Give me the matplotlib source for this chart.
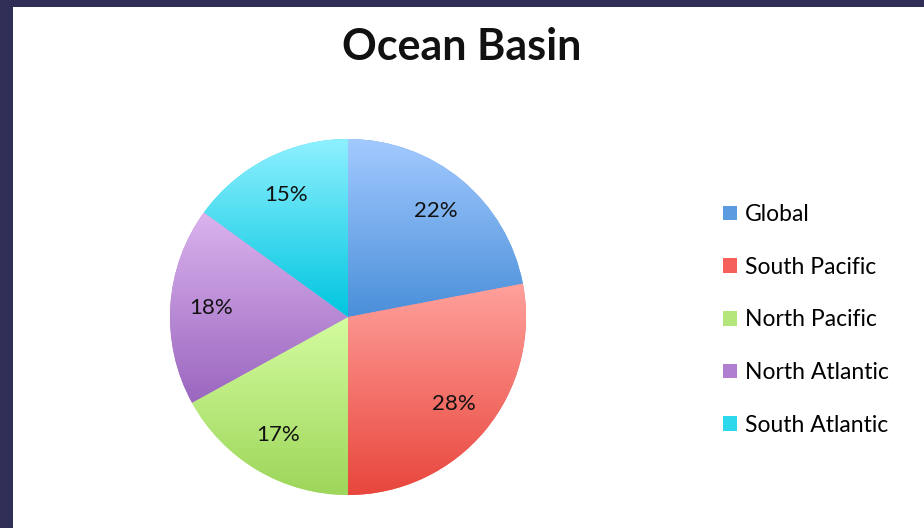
import numpy as np
import matplotlib
matplotlib.use("Agg")
import matplotlib.pyplot as plt
from matplotlib.patches import Patch, Rectangle
from matplotlib.colors import to_rgb

# Chart data
basins = ["Global", "South Pacific", "North Pacific", "North Atlantic", "South Atlantic"]
shares = [22, 28, 17, 18, 15]

# light (top) / dark (bottom) gradient ends per slice
top_colors = ["#a3caff", "#ffa19c", "#d4fc9f", "#dbb3ee", "#8ef0ff"]
bottom_colors = ["#4a8fd9", "#e8463c", "#9dd65a", "#9a66bf", "#00c6df"]
legend_colors = ["#5b9be0", "#f5605a", "#b5e67c", "#b07fd0", "#2dd8ec"]

plt.rcParams["font.family"] = ["Lato", "DejaVu Sans"]

W, H = 924, 528
fig = plt.figure(figsize=(W / 100, H / 100), dpi=100, facecolor="#2f2e57")
# white panel
fig.patches.append(Rectangle((13 / W, 0), 1 - 13 / W, 1 - 7 / H,
                             transform=fig.transFigure, facecolor="white",
                             edgecolor="none", zorder=-10))

# pie axes, square in pixels
cx, cy, r_px = 348, 317, 178
half = 185
ax = fig.add_axes([(cx - half) / W, (H - cy - half) / H, 2 * half / W, 2 * half / H])
ax.set_facecolor("none")

wedges, texts, autotexts = ax.pie(shares, startangle=90, counterclock=False,
                                  colors=legend_colors, autopct="%1.0f%%",
                                  pctdistance=0.77,
                                  wedgeprops=dict(linewidth=0),
                                  textprops=dict(fontsize=16, color="#111111"))

# vertical gradient per slice, clipped to the wedge
for w, c_top, c_bot in zip(wedges, top_colors, bottom_colors):
    ext = w.get_path().get_extents()
    t = np.linspace(0, 1, 256)[:, None]
    grad = (1 - t) * np.array(to_rgb(c_top)) + t * np.array(to_rgb(c_bot))
    img = ax.imshow(grad[:, None, :], extent=[ext.x0, ext.x1, ext.y0, ext.y1],
                    origin="upper", aspect="auto", zorder=w.get_zorder() + 0.5,
                    interpolation="bilinear")
    img.set_clip_path(w)

for t in autotexts:
    t.set_zorder(5)

lim = half / r_px
ax.set_xlim(-lim, lim)
ax.set_ylim(-lim, lim)
ax.axis("off")

fig.text(462 / W, 1 - 47 / H, "Ocean Basin", ha="center", va="center",
         fontsize=31, fontweight="bold", color="#111111")

handles = [Patch(facecolor=c, edgecolor="none") for c in legend_colors]
fig.legend(handles, basins, loc="upper left", bbox_to_anchor=(714 / W, 1 - 195 / H),
           frameon=False, fontsize=16.5, handlelength=0.6, handleheight=0.6,
           handletextpad=0.35, labelspacing=1.38, borderaxespad=0)

fig.savefig("out.png", dpi=100, facecolor=fig.get_facecolor())
